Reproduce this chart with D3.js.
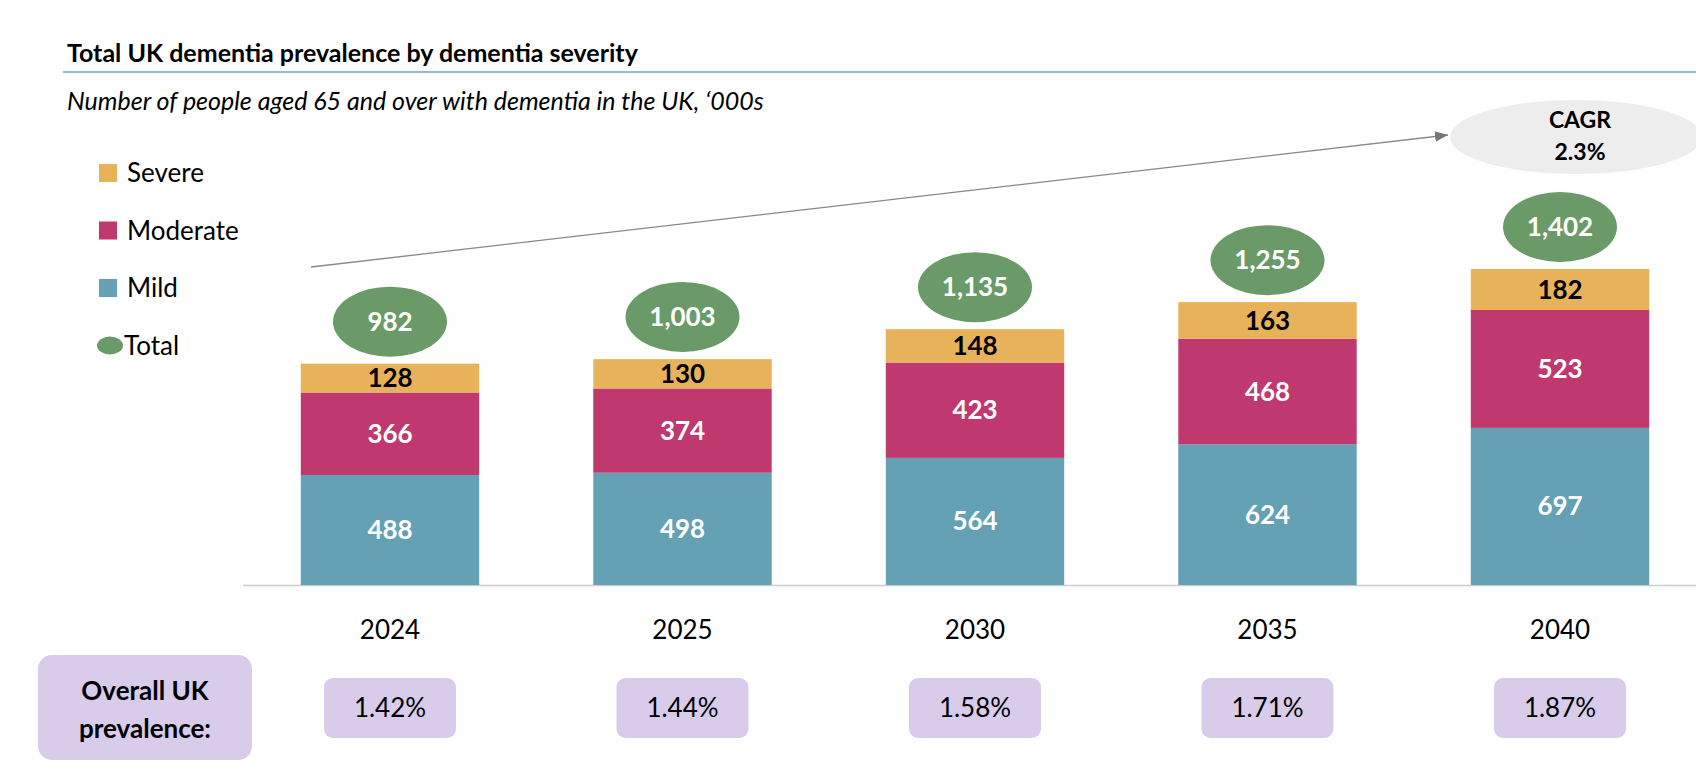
<!DOCTYPE html><html><head><meta charset="utf-8">
<script src="https://cdn.jsdelivr.net/npm/d3@7"></script>
<style>body{margin:0;background:#fff}text{font-family:Lato,"Open Sans",sans-serif}</style></head>
<body><svg id="c" width="1696" height="778"></svg>
<script>
const years=["2024","2025","2030","2035","2040"];
const mild=[488,498,564,624,697];
const moderate=[366,374,423,468,523];
const severe=[128,130,148,163,182];
const totals=[982,1003,1135,1255,1402];
const prevalence=["1.42%","1.44%","1.58%","1.71%","1.87%"];
const seriesNames=["Mild","Moderate","Severe"];
const colors={Mild:"#64A1B4",Moderate:"#C0396E",Severe:"#E8B25A"};

const svg=d3.select("#c");
const x=d3.scaleBand().domain(years).range([243.75,1706.25]).paddingInner(0.39).paddingOuter(0.195);
const y=d3.scaleLinear().domain([0,1402]).range([585,269]);
const data=years.map((yr,i)=>({year:yr,Mild:mild[i],Moderate:moderate[i],Severe:severe[i]}));
const stack=d3.stack().keys(seriesNames)(data);

svg.append("text").attr("x",67).attr("y",62).attr("font-size",25).attr("font-weight",700).text("Total UK dementia prevalence by dementia severity");
svg.append("line").attr("x1",63).attr("x2",1696).attr("y1",72).attr("y2",72).attr("stroke","#6FAAB5").attr("stroke-width",1.5);
svg.append("text").attr("x",67).attr("y",110).attr("font-size",25).attr("font-style","italic").text("Number of people aged 65 and over with dementia in the UK, \u2018000s");

const leg=[["Severe","rect",colors.Severe],["Moderate","rect",colors.Moderate],["Mild","rect",colors.Mild],["Total","ell","#6A9A68"]];
leg.forEach((d,i)=>{const ly=173+i*57.5;
 if(d[1]=="rect")svg.append("rect").attr("x",99).attr("y",ly-9).attr("width",18).attr("height",18).attr("fill",d[2]);
 else svg.append("ellipse").attr("cx",110).attr("cy",ly).attr("rx",13).attr("ry",9).attr("fill",d[2]);
 svg.append("text").attr("x",d[1]=="rect"?127:124).attr("y",ly+9).attr("font-size",26).text(d[0]);});

svg.append("line").attr("x1",243).attr("x2",1696).attr("y1",585.5).attr("y2",585.5).attr("stroke","#ccc").attr("stroke-width",1.5);

stack.forEach(s=>{
 const g=svg.append("g");
 g.selectAll("rect").data(s).join("rect").attr("x",d=>x(d.data.year)).attr("width",x.bandwidth())
  .attr("y",d=>y(d[1])).attr("height",d=>y(d[0])-y(d[1])).attr("fill",colors[s.key]);
 g.selectAll("text").data(s).join("text").attr("x",d=>x(d.data.year)+x.bandwidth()/2)
  .attr("y",d=>(y(d[0])+y(d[1]))/2+9).attr("text-anchor","middle").attr("font-size",26).attr("font-weight",700)
  .attr("fill",s.key=="Severe"?"#000":"#fff").text(d=>d[1]-d[0]);
});

svg.append("defs").append("marker").attr("id","ah").attr("viewBox","0 0 10 10").attr("refX",10).attr("refY",5)
 .attr("markerWidth",10).attr("markerHeight",10).attr("orient","auto").append("path").attr("d","M0,1L10,5L0,9Z").attr("fill","#777");
svg.append("line").attr("x1",311).attr("y1",267).attr("x2",1448).attr("y2",135).attr("stroke","#888").attr("stroke-width",1.3).attr("marker-end","url(#ah)");
svg.append("ellipse").attr("cx",1576).attr("cy",137).attr("rx",126).attr("ry",37).attr("fill","#EDEDED");
svg.append("text").attr("x",1580).attr("y",128).attr("text-anchor","middle").attr("font-size",23).attr("font-weight",700).text("CAGR");
svg.append("text").attr("x",1580).attr("y",160).attr("text-anchor","middle").attr("font-size",23).attr("font-weight",700).text("2.3%");

years.forEach((yr,i)=>{const cx=x(yr)+x.bandwidth()/2, cy=y(totals[i])-42;
 svg.append("ellipse").attr("cx",cx).attr("cy",cy).attr("rx",57).attr("ry",35).attr("fill","#6A9A68");
 svg.append("text").attr("x",cx).attr("y",cy+9).attr("text-anchor","middle").attr("font-size",26).attr("font-weight",700).attr("fill","#fff").text(d3.format(",")(totals[i]));
 svg.append("text").attr("x",cx).attr("y",639).attr("text-anchor","middle").attr("font-size",26).text(yr);
 svg.append("rect").attr("x",cx-66).attr("y",678).attr("width",132).attr("height",60).attr("rx",9).attr("fill","#D9CCEB");
 svg.append("text").attr("x",cx).attr("y",717).attr("text-anchor","middle").attr("font-size",26).text(prevalence[i]);
});
svg.append("rect").attr("x",38).attr("y",655).attr("width",214).attr("height",105).attr("rx",14).attr("fill","#D9CCEB");
svg.append("text").attr("x",145).attr("y",700).attr("text-anchor","middle").attr("font-size",26).attr("font-weight",700).text("Overall UK");
svg.append("text").attr("x",145).attr("y",738).attr("text-anchor","middle").attr("font-size",26).attr("font-weight",700).text("prevalence:");
</script></body></html>
